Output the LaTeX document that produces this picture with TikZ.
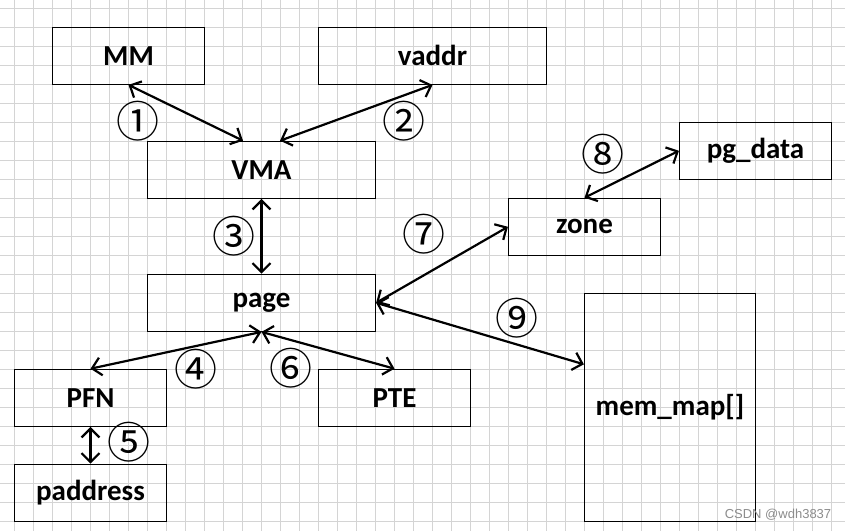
\documentclass[tikz,border=0pt]{standalone}
\usepackage{fontspec}
\setmainfont{Carlito}
\newfontfamily\circfont{Noto Sans CJK SC}
\newfontfamily\markfont{Liberation Sans}
\usetikzlibrary{arrows.meta}
\begin{document}
\begin{tikzpicture}[x=1pt,y=-1pt,
  box/.style={draw,line width=1.2pt,inner sep=0pt,font=\bfseries\fontsize{29}{29}\selectfont},
  link/.style={line width=2.2pt,{Straight Barb[length=9pt,width=18pt]}-{Straight Barb[length=9pt,width=18pt]}},
  num/.style={font=\circfont\fontsize{43}{43}\selectfont,inner sep=0pt}]

\useasboundingbox (0,0) rectangle (845,531);
\fill[white] (0,0) rectangle (845,531);
\foreach \i in {0,...,43} \draw[black!17,line width=1pt] ({14.5+19*\i},0) -- ({14.5+19*\i},531);
\foreach \j in {0,...,27} \draw[black!17,line width=1pt] (0,{8.3+19*\j}) -- (845,{8.3+19*\j});

\node[box,minimum width=152pt,minimum height=57pt] (mm) at (128.5,55.8) {MM};
\node[box,minimum width=228pt,minimum height=57pt] (vaddr) at (432.5,55.8) {vaddr};
\node[box,minimum width=228pt,minimum height=57pt] (vma) at (261.5,169.8) {VMA};
\node[box,minimum width=152pt,minimum height=57pt] (pgdata) at (755.5,150.8) {pg\_data};
\node[box,minimum width=152pt,minimum height=57pt] (zone) at (584.5,226.8) {zone};
\node[box,minimum width=228pt,minimum height=57pt] (page) at (261.5,302.8) {page};
\node[box,minimum width=171pt,minimum height=228pt] (memmap) at (670,407.3) {mem\_map[]};
\node[box,minimum width=152pt,minimum height=57pt] (pfn) at (90.5,397.8) {PFN};
\node[box,minimum width=152pt,minimum height=57pt] (pte) at (394.5,397.8) {PTE};
\node[box,minimum width=152pt,minimum height=57pt] (paddr) at (90.5,492.8) {paddress};

\draw[link] (mm.south) -- ([xshift=-18.5pt]vma.north);
\draw[link] (vaddr.south) -- ([xshift=18.5pt]vma.north);
\draw[link] (vma.south) -- (page.north);
\draw[link] (page.south) -- (pfn.north);
\draw[link] (page.south) -- (pte.north);
\draw[link] (pfn.south) -- (paddr.north);
\draw[link] (page.east) -- (zone.west);
\draw[link] (zone.north) -- (pgdata.west);
\draw[link] (page.east) -- ([yshift=43pt]memmap.west);

\node[num] (n1) at (137.5,121) {①};
\node[num] (n2) at (404,121) {②};
\node[num] (n3) at (234,236) {③};
\node[num] (n4) at (195.5,369) {④};
\node[num] (n5) at (129,442) {⑤};
\node[num] (n6) at (291,368) {⑥};
\node[num] (n7) at (424,234) {⑦};
\node[num] (n8) at (603,154) {⑧};
\node[num] (n9) at (517,318) {⑨};

\node[text=black!45,font=\markfont\fontsize{13}{13}\selectfont] (wm) at (778,515) {CSDN @wdh3837};
\end{tikzpicture}
\end{document}
